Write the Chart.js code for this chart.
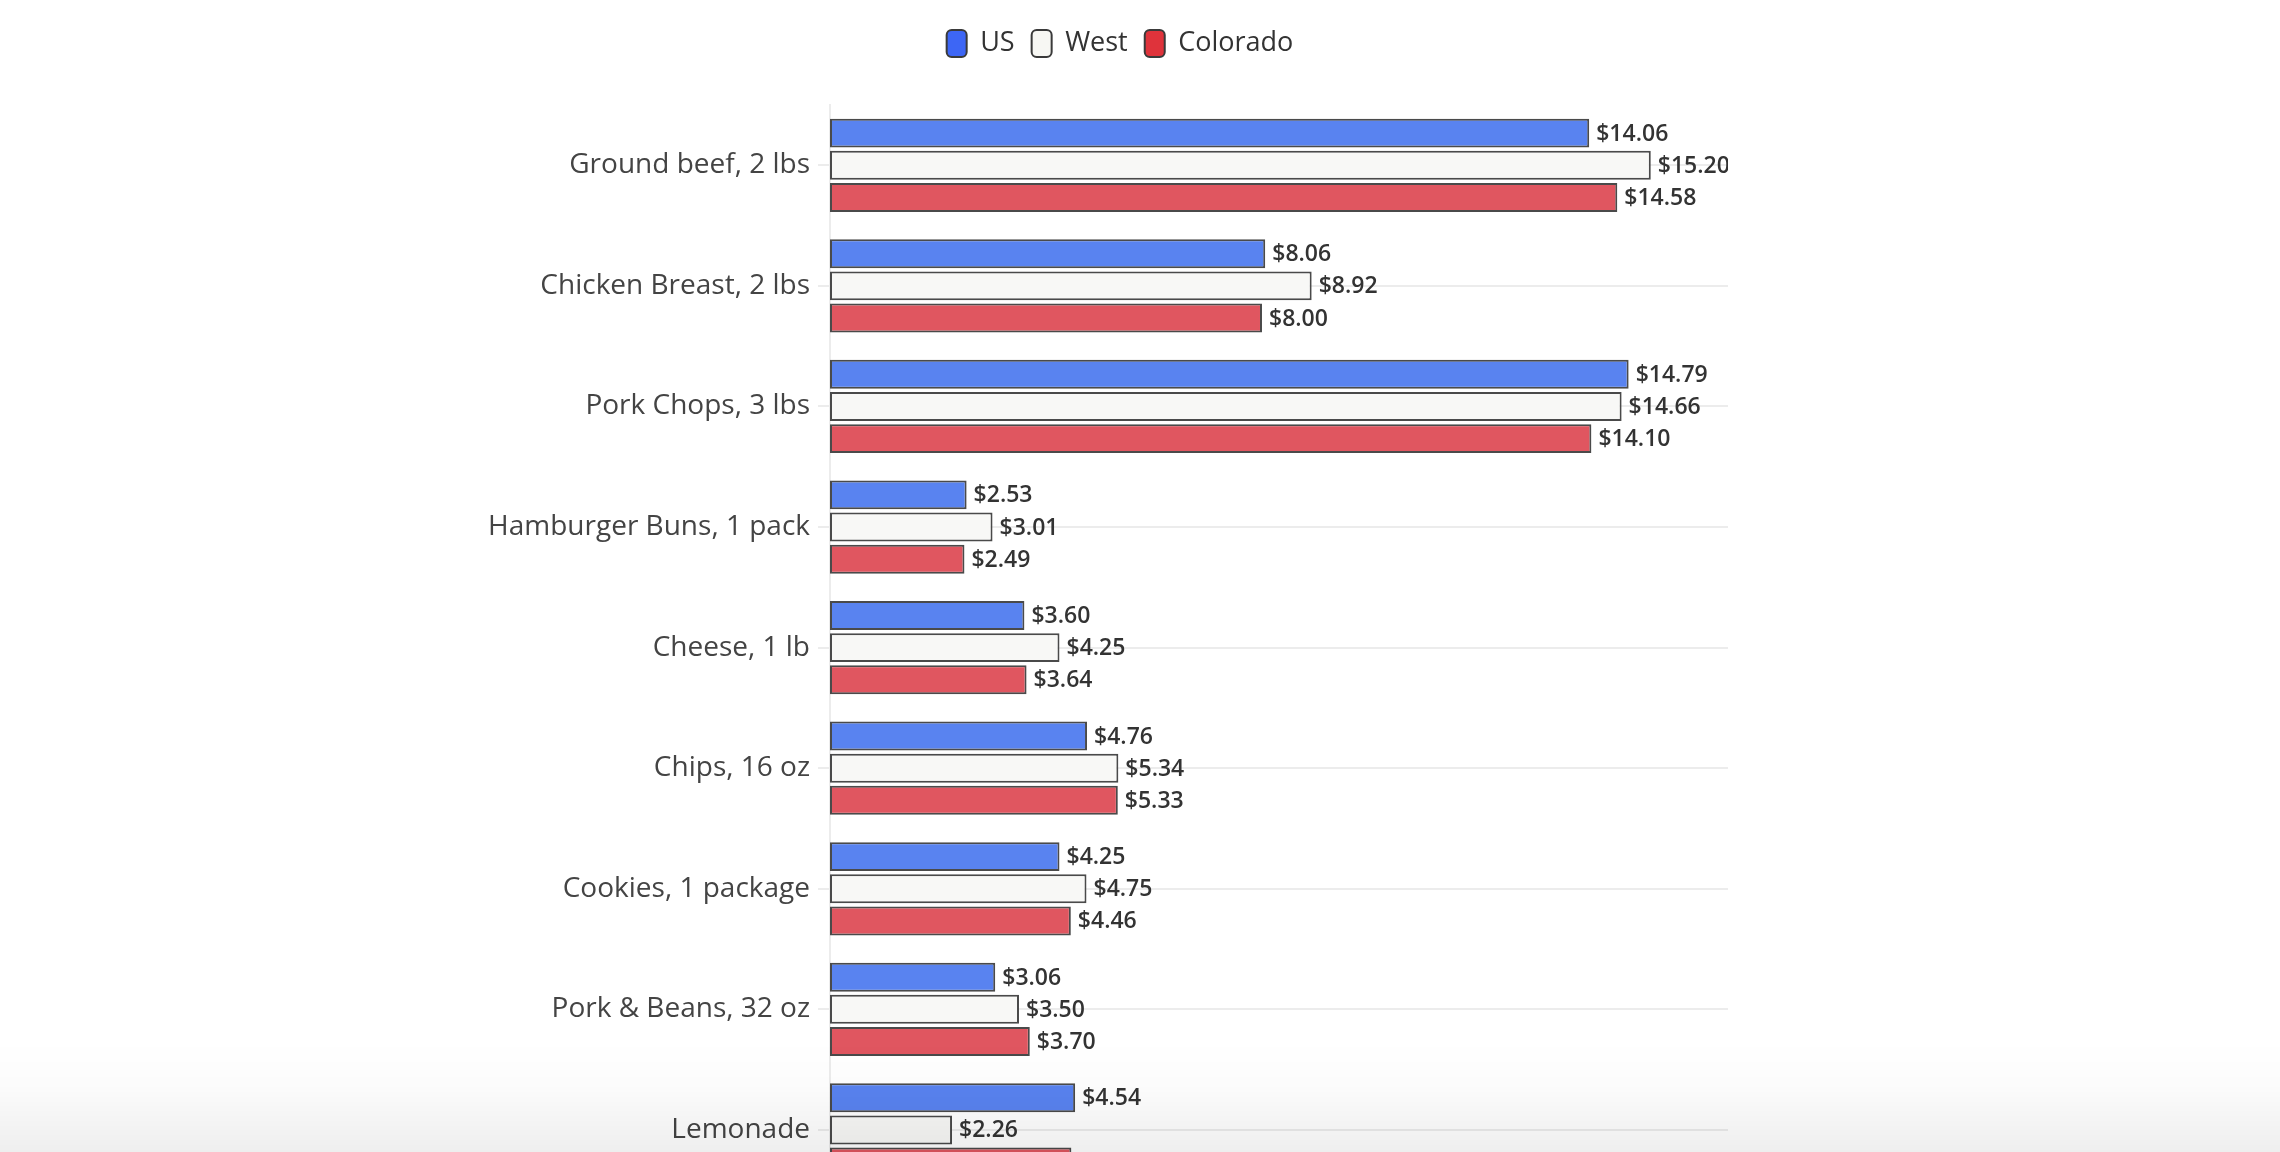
<!DOCTYPE html>
<html>
<head>
<meta charset="utf-8">
<script src="https://cdn.jsdelivr.net/npm/chart.js@4.4.1/dist/chart.umd.min.js"></script>
<style>
  html, body { margin: 0; padding: 0; background: #ffffff; overflow: hidden; width: 2280px; height: 1152px; }
  #wrap { position: absolute; left: 0; top: 0; width: 2280px; height: 1215px; }
  #fade { position: absolute; left: 0; top: 1040px; width: 2280px; height: 112px; pointer-events: none;
          background: linear-gradient(to bottom, rgba(0,0,0,0) 0%, rgba(0,0,0,0.012) 40%, rgba(0,0,0,0.065) 100%); }
</style>
</head>
<body>
<div id="wrap"><canvas id="c" width="2280" height="1215"></canvas></div>
<div id="fade"></div>
<script>
const categories = [
  "Ground beef, 2 lbs",
  "Chicken Breast, 2 lbs",
  "Pork Chops, 3 lbs",
  "Hamburger Buns, 1 pack",
  "Cheese, 1 lb",
  "Chips, 16 oz",
  "Cookies, 1 package",
  "Pork & Beans, 32 oz",
  "Lemonade"
];
const seriesNames = ["US", "West", "Colorado"];
const usValues       = [14.06, 8.06, 14.79, 2.53, 3.60, 4.76, 4.25, 3.06, 4.54];
const westValues     = [15.20, 8.92, 14.66, 3.01, 4.25, 5.34, 4.75, 3.50, 2.26];
const coloradoValues = [14.58, 8.00, 14.10, 2.49, 3.64, 5.33, 4.46, 3.70, 4.47];

const barColors = ["#5983f0", "#f8f8f6", "#e05660"];
const legendColors = ["#3d66f5", "#f7f7f3", "#df333b"];
const edge = "#4a4a4a";

const labelFont = "'Open Sans', 'Noto Sans', sans-serif";

const valueLabels = {
  id: 'valueLabels',
  afterDatasetsDraw(chart) {
    const ctx = chart.ctx, area = chart.chartArea;
    ctx.save();
    ctx.beginPath();
    ctx.rect(area.left, area.top - 40, area.right - area.left, area.bottom - area.top + 80);
    ctx.clip();
    ctx.font = "600 23px " + labelFont;
    ctx.fillStyle = "#333333";
    ctx.textAlign = "left";
    ctx.textBaseline = "middle";
    chart.data.datasets.forEach((ds, i) => {
      const meta = chart.getDatasetMeta(i);
      meta.data.forEach((bar, j) => {
        ctx.fillText("$" + ds.data[j].toFixed(2), bar.x + 7, bar.y + 1);
      });
    });
    ctx.restore();
  }
};

const legendTweak = {
  id: 'legendTweak',
  beforeInit(chart) {
    if (chart.legend) {
      const orig = chart.legend.fit;
      chart.legend.fit = function () { orig.call(this); this.height = 92; };
    }
  },
  afterLayout(chart) {
    if (chart.legend) {
      chart.legend.left += 36;
      chart.legend.right += 36;
    }
  }
};

new Chart(document.getElementById('c'), {
  type: 'bar',
  data: {
    labels: categories,
    datasets: [
      { label: seriesNames[0], data: usValues, backgroundColor: barColors[0] },
      { label: seriesNames[1], data: westValues, backgroundColor: barColors[1] },
      { label: seriesNames[2], data: coloradoValues, backgroundColor: barColors[2] }
    ]
  },
  options: {
    indexAxis: 'y',
    responsive: false,
    animation: false,
    maintainAspectRatio: false,
    layout: { padding: { left: 440, right: 552, top: 13, bottom: 11 } },
    datasets: {
      bar: { borderColor: edge, borderWidth: 2, borderSkipped: false, categoryPercentage: 0.8, barPercentage: 0.9 }
    },
    scales: {
      x: { display: false, min: 0, max: 16.63 },
      y: {
        afterFit(scale) { scale.width = 390; },
        grid: { offset: false, color: "#ececec", lineWidth: 2, drawTicks: true, tickLength: 12, tickColor: "#ececec" },
        border: { display: true, color: "#ececec", width: 2 },
        ticks: { color: "#444444", padding: 8, font: { family: labelFont, size: 28, weight: '400' } }
      }
    },
    plugins: {
      tooltip: { enabled: false },
      legend: {
        position: 'top',
        labels: {
          boxWidth: 20,
          boxHeight: 27,
          padding: 17,
          color: "#333333",
          useBorderRadius: true,
          borderRadius: 5,
          font: { family: labelFont, size: 27, weight: '400' },
          generateLabels(chart) {
            const items = Chart.defaults.plugins.legend.labels.generateLabels(chart);
            items.forEach((it, i) => { it.fillStyle = legendColors[i]; it.strokeStyle = "#3a3a3a"; it.lineWidth = 2; });
            return items;
          }
        }
      }
    }
  },
  plugins: [legendTweak, valueLabels]
});
</script>
</body>
</html>
